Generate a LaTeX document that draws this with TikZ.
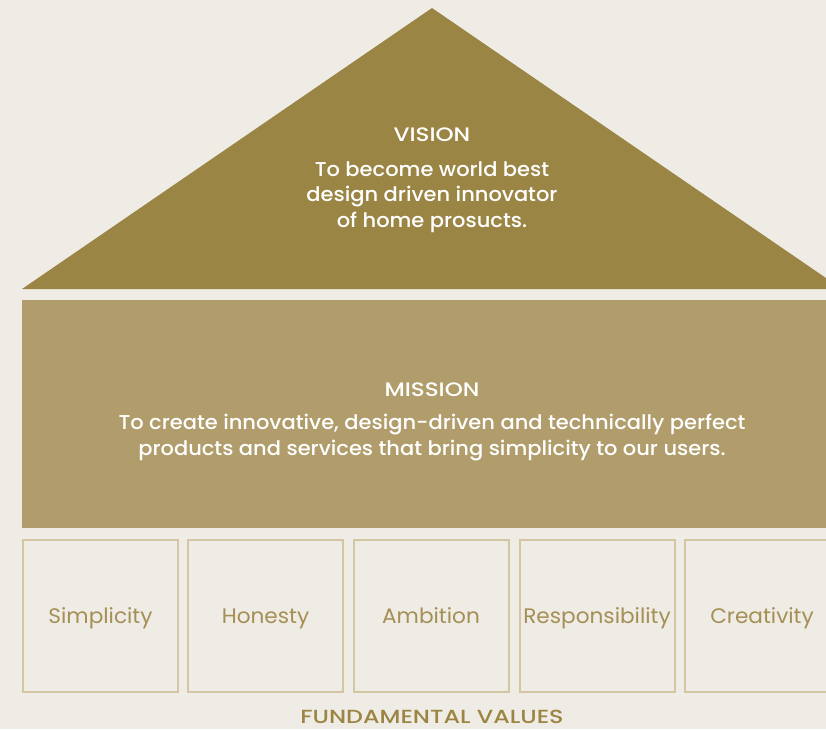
\documentclass[tikz,border=0pt]{standalone}
\usepackage{fontspec}
\setmainfont{Poppins}
\IfFontExistsTF{Poppins Medium}
  {\newfontfamily\headfont[FakeStretch=1.18]{Poppins Medium}
   \newfontfamily\basefont[FakeStretch=1.25]{Poppins Medium}
   \newfontfamily\copyfont[FakeStretch=1.05]{Poppins Medium}}
  {\newfontfamily\headfont[FakeStretch=1.18,FakeBold=0.4]{Poppins}
   \newfontfamily\basefont[FakeStretch=1.25,FakeBold=0.4]{Poppins}
   \newfontfamily\copyfont[FakeStretch=1.05,FakeBold=0.4]{Poppins}}
\newfontfamily\labelfont[FakeStretch=1.03]{Poppins}
\definecolor{paper}{HTML}{EFECE6}
\definecolor{roofgold}{HTML}{9B8544}
\definecolor{wallgold}{HTML}{B19D6B}
\definecolor{pillarline}{HTML}{D3C6A2}
\definecolor{pillartext}{HTML}{A48F55}
\definecolor{basetext}{HTML}{9C8543}
\begin{document}
\begin{tikzpicture}[x=1pt,y=-1pt,
  headtext/.style={text=white,font=\headfont\fontsize{19.5}{22}\selectfont,inner sep=0pt,anchor=base},
  % multi-line text: the base anchor sits on the last line
  bodytext/.style={text=white,font=\copyfont\fontsize{20}{25.3}\selectfont,align=center,inner sep=0pt,anchor=base},
  pillar/.style={draw=pillarline,line width=2pt,fill=paper,minimum width=155pt,minimum height=152pt,inner sep=0pt},
  pillarlabel/.style={text=pillartext,font=\labelfont\fontsize{21}{24}\selectfont,inner sep=0pt,anchor=base}]
% page frame
\fill[paper] (0,0) rectangle (826,729);
\clip (0,0) rectangle (826,729);
\useasboundingbox (0,0) rectangle (826,729);

% roof
\fill[roofgold] (432,8) -- (842,289) -- (22,289) -- cycle;
\node[headtext] (vision) at (432,141.5) {VISION};
\node[bodytext] (visiontext) at (432,227) {To become world best\\design driven innovator\\of home prosucts.};

% wall
\fill[wallgold] (22,300) rectangle (842,528);
\node[headtext] (mission) at (432,396.5) {MISSION};
\node[bodytext] (missiontext) at (432,455) {To create innovative, design-driven and technically perfect\\products and services that bring simplicity to our users.};

% pillars
\node[pillar] (p1) at (100.5,616) {};
\node[pillar] (p2) at (265.5,616) {};
\node[pillar] (p3) at (431,616) {};
\node[pillar] (p4) at (597,616) {};
\node[pillar] (p5) at (762,616) {};
\node[pillarlabel] (l1) at (100.5,623.5) {Simplicity};
\node[pillarlabel] (l2) at (265.5,623.5) {Honesty};
\node[pillarlabel] (l3) at (431,623.5) {Ambition};
\node[pillarlabel] (l4) at (597,623.5) {Responsibility};
\node[pillarlabel] (l5) at (762,623.5) {Creativity};

\node[text=basetext,font=\basefont\fontsize{19}{22}\selectfont,inner sep=0pt,anchor=base] (values) at (432,723.3) {FUNDAMENTAL VALUES};
\end{tikzpicture}
\end{document}
